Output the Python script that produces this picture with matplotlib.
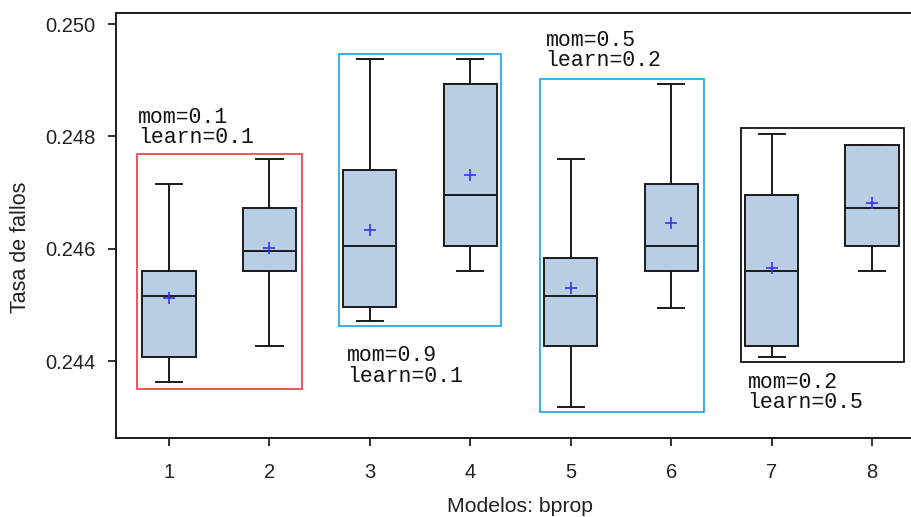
import matplotlib
matplotlib.use("Agg")
from matplotlib import pyplot as plt
from matplotlib.patches import Rectangle

# box plot summaries, models 1..8
models = [1, 2, 3, 4, 5, 6, 7, 8]
whis_low = [0.24362, 0.24427, 0.24471, 0.24560, 0.24318, 0.24495, 0.24407, 0.24560]
q1 = [0.24407, 0.24560, 0.24496, 0.24604, 0.24427, 0.24560, 0.24427, 0.24604]
median = [0.24516, 0.24596, 0.24604, 0.24696, 0.24516, 0.24604, 0.24560, 0.24672]
q3 = [0.24560, 0.24672, 0.24740, 0.24893, 0.24583, 0.24716, 0.24695, 0.24784]
whis_high = [0.24716, 0.24760, 0.24937, 0.24937, 0.24760, 0.24893, 0.24805, 0.24784]
means = [0.24513, 0.24601, 0.24633, 0.24731, 0.24530, 0.24645, 0.24565, 0.24681]

# parameter groups: (x0, x1, y0, y1), label, label anchor
groups = [
    ((0.68, 2.32, 0.24350, 0.24769), "mom=0.1\nlearn=0.1", (0.69, 0.24853), "#f0484e"),
    ((2.69, 4.31, 0.24462, 0.24947), "mom=0.9\nlearn=0.1", (2.77, 0.24428), "#2aaae2"),
    ((4.69, 6.33, 0.24309, 0.24902), "mom=0.5\nlearn=0.2", (4.75, 0.24990), "#2aaae2"),
    ((6.70, 8.32, 0.24398, 0.24814), "mom=0.2\nlearn=0.5", (6.76, 0.24381), "#111111"),
]

fig = plt.figure(figsize=(9.12, 5.17), dpi=100)
ax = fig.add_axes([116 / 912, 1 - 438 / 517, 1 - 116 / 912, (438 - 13) / 517])

stats = []
for i in range(len(models)):
    stats.append({"whislo": whis_low[i], "q1": q1[i], "med": median[i],
                  "q3": q3[i], "whishi": whis_high[i], "mean": means[i]})

edge = "#1a1a1a"
ax.bxp(stats, positions=models, widths=0.53, capwidths=0.26,
       patch_artist=True, showfliers=False, showmeans=True,
       boxprops=dict(facecolor="#b9cde5", edgecolor=edge, linewidth=1.4),
       medianprops=dict(color=edge, linewidth=1.4),
       whiskerprops=dict(color=edge, linewidth=1.4),
       capprops=dict(color=edge, linewidth=1.4),
       meanprops=dict(marker="+", markeredgecolor="#3535f0",
                      markersize=9, markeredgewidth=1.2))

for (x0, x1, y0, y1), txt, (tx, ty), col in groups:
    ax.add_patch(Rectangle((x0, y0), x1 - x0, y1 - y0, fill=False,
                           edgecolor=col, linewidth=1.3, zorder=1))
    ax.text(tx, ty, txt, family="Liberation Mono", fontsize=15.5,
            va="top", ha="left", linespacing=0.98, color="#111111")

ax.set_xlim(0.472, 8.398)
ax.set_ylim(0.24263, 0.250196)
ax.set_xticks(models)
ax.set_yticks([0.244, 0.246, 0.248, 0.250])
ax.set_yticklabels(["0.244", "0.246", "0.248", "0.250"])
ax.tick_params(axis="both", labelsize=14.5, colors="#222222", width=1.3,
               length=6)
ax.tick_params(axis="y", pad=9)
ax.tick_params(axis="x", pad=12)
for t in ax.get_xticklabels() + ax.get_yticklabels():
    t.set_family("Liberation Sans")
ax.spines["right"].set_visible(False)
for s in ["left", "top", "bottom"]:
    ax.spines[s].set_linewidth(1.4)
    ax.spines[s].set_color("#1a1a1a")

fig.text(20.5 / 912, 1 - 247 / 517, "Tasa de fallos", rotation=90,
         ha="center", va="center", fontsize=15.5, family="Liberation Sans",
         color="#222222")
fig.text(520 / 912, 1 - 507 / 517, "Modelos: bprop", ha="center",
         va="center", fontsize=15.3, family="Liberation Sans", color="#222222")

fig.savefig("out.png", dpi=100)
